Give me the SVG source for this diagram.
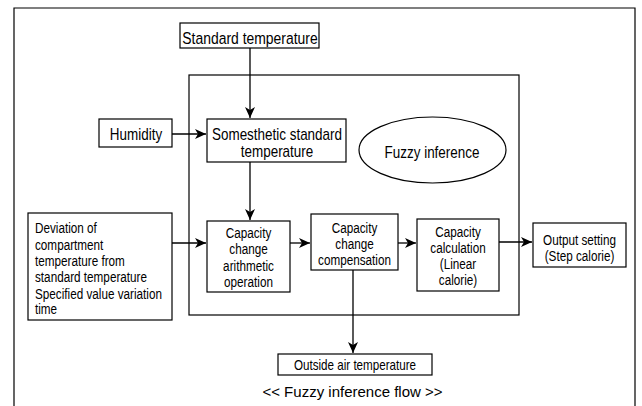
<svg xmlns="http://www.w3.org/2000/svg" width="642" height="406" viewBox="0 0 642 406">
<style>
.b{fill:#fff;stroke:#000;stroke-width:1.2}
.f{fill:none;stroke:#000;stroke-width:1.2}
.c{stroke:#000;stroke-width:1.3;fill:none}
text{font-family:"Liberation Sans",Arial,sans-serif;font-size:14.3px;fill:#000}
.m{text-anchor:middle}
.l17{font-size:17px}
.l16{font-size:16.4px}
</style>
<defs>
<marker id="ah" markerWidth="12" markerHeight="10" refX="11" refY="5" orient="auto" markerUnits="userSpaceOnUse">
<path d="M0,0 L11,5 L0,10 L3,5 Z" fill="#000"/>
</marker>
</defs>
<rect width="642" height="406" fill="#fff"/>
<g id="frame"><path class="f" d="M14,410 V8 H635 V410"/></g>
<g id="inner"><rect class="f" x="189" y="75" width="330" height="240"/></g>
<g id="connectors">
<line class="c" x1="250" y1="48" x2="250" y2="118" marker-end="url(#ah)"/>
<line class="c" x1="172" y1="134" x2="206" y2="134" marker-end="url(#ah)"/>
<line class="c" x1="250" y1="162" x2="250" y2="220" marker-end="url(#ah)"/>
<line class="c" x1="172" y1="243" x2="206" y2="243" marker-end="url(#ah)"/>
<line class="c" x1="290" y1="243" x2="310" y2="243" marker-end="url(#ah)"/>
<line class="c" x1="397" y1="243" x2="416" y2="243" marker-end="url(#ah)"/>
<line class="c" x1="499" y1="242" x2="532" y2="242" marker-end="url(#ah)"/>
<line class="c" x1="353" y1="270" x2="353" y2="353" marker-end="url(#ah)"/>
</g>
<g id="standard"><rect class="b" x="180" y="23" width="139" height="25"/><text class="m l17" transform="translate(250 44) scale(.82 1)">Standard temperature</text></g>
<g id="humidity"><rect class="b" x="99" y="119" width="73" height="28"/><text class="m l16" transform="translate(136 140) scale(.82 1)">Humidity</text></g>
<g id="somesthetic"><rect class="b" x="207" y="119" width="139" height="43"/><text class="m l16" transform="translate(277 140) scale(.82 1)">Somesthetic standard</text><text class="m l16" transform="translate(277 157) scale(.82 1)">temperature</text></g>
<g id="fuzzy"><ellipse class="b" cx="432.5" cy="150" rx="73.5" ry="33"/><text class="m l16" transform="translate(432 158) scale(.82 1)">Fuzzy inference</text></g>
<g id="deviation"><rect class="b" x="28" y="213" width="144" height="107"/>
<text transform="translate(35 233) scale(.82 1)">Deviation of</text>
<text transform="translate(35 249.5) scale(.82 1)">compartment</text>
<text transform="translate(35 266) scale(.82 1)">temperature from</text>
<text transform="translate(35 282) scale(.82 1)">standard temperature</text>
<text transform="translate(35 298.5) scale(.82 1)">Specified value variation</text>
<text transform="translate(35 314) scale(.82 1)">time</text></g>
<g id="arith"><rect class="b" x="207" y="221" width="83" height="71"/>
<text class="m" transform="translate(248.5 238) scale(.82 1)">Capacity</text>
<text class="m" transform="translate(248.5 254) scale(.82 1)">change</text>
<text class="m" transform="translate(248.5 271) scale(.82 1)">arithmetic</text>
<text class="m" transform="translate(248.5 287) scale(.82 1)">operation</text></g>
<g id="comp"><rect class="b" x="311" y="214" width="87" height="56"/>
<text class="m" transform="translate(354.5 233) scale(.82 1)">Capacity</text>
<text class="m" transform="translate(354.5 249) scale(.82 1)">change</text>
<text class="m" transform="translate(354.5 265) scale(.82 1)">compensation</text></g>
<g id="calc"><rect class="b" x="417" y="219" width="82" height="72"/>
<text class="m" transform="translate(458 237) scale(.82 1)">Capacity</text>
<text class="m" transform="translate(458 253) scale(.82 1)">calculation</text>
<text class="m" transform="translate(458 269) scale(.82 1)">(Linear</text>
<text class="m" transform="translate(458 285) scale(.82 1)">calorie)</text></g>
<g id="output"><rect class="b" x="533" y="223" width="93" height="44"/>
<text class="m" transform="translate(579.5 245) scale(.82 1)">Output setting</text>
<text class="m" transform="translate(579.5 261) scale(.82 1)">(Step calorie)</text></g>
<g id="outside"><rect class="b" x="278" y="354" width="154" height="21"/><text class="m" transform="translate(355 370) scale(.82 1)" style="font-size:14.2px">Outside air temperature</text></g>
<text class="m" x="352.5" y="397" style="font-size:15px">&lt;&lt; Fuzzy inference flow &gt;&gt;</text>
</svg>
